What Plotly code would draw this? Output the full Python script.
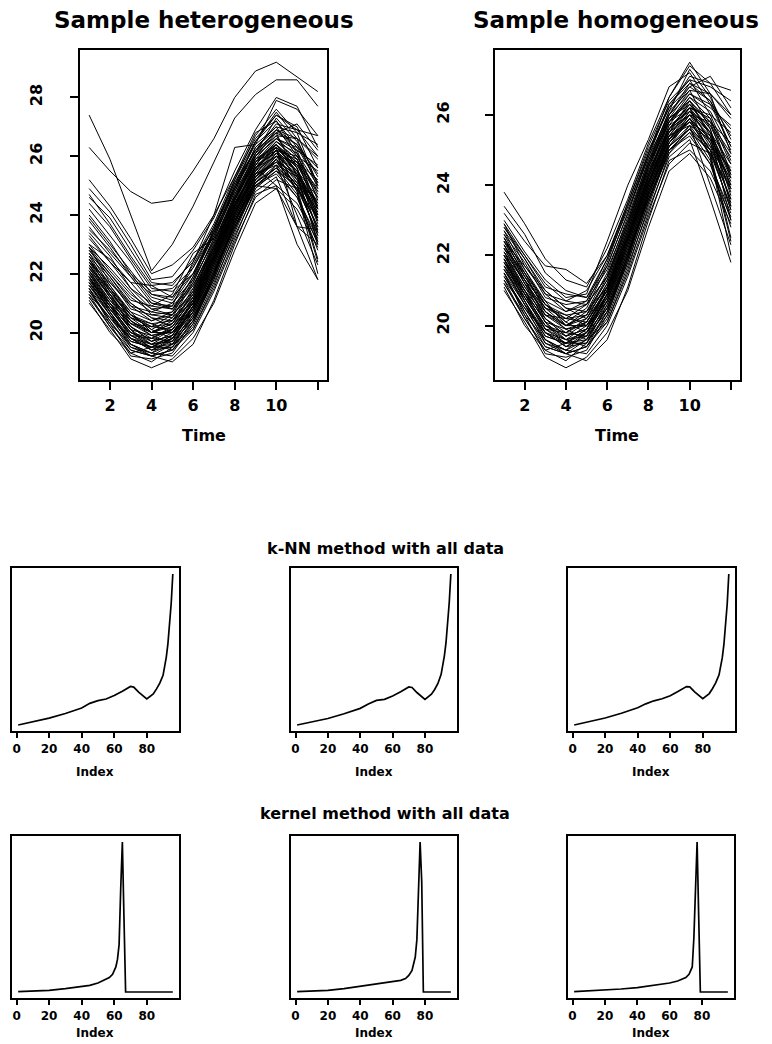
import plotly.graph_objects as go

W, H = 772, 1044          # browser window
OFF = 8                   # default page body margin
FW, FH = W - OFF, H - OFF # figure size
FONT = "DejaVu Sans"

# ---------------- data ----------------
TIME = list(range(1, 13))
TIME_TICKS = [2, 4, 6, 8, 10, 12]
TIME_TICKTEXT = ["2", "4", "6", "8", "10", ""]

BASE_CURVES = [
    [23.8, 22.9, 21.9, 21.3, 21.1, 22.2, 23.6, 25.2, 26.5, 27.5, 26.6, 24.9],
    [23.2, 22.4, 21.7, 21.6, 21.2, 22.0, 23.4, 24.9, 26.2, 27.1, 26.9, 26.7],
    [22.8, 22.0, 21.1, 20.9, 20.8, 21.9, 23.3, 24.8, 26.0, 26.8, 27.1, 26.2],
    [22.6, 21.8, 20.8, 20.6, 20.7, 21.6, 23.0, 24.6, 26.1, 27.3, 26.5, 25.3],
    [22.5, 21.4, 20.5, 20.3, 20.4, 21.5, 23.1, 24.7, 25.9, 26.4, 25.8, 24.2],
    [22.3, 21.2, 20.3, 20.2, 20.1, 21.0, 22.6, 24.3, 25.8, 26.6, 26.2, 25.7],
    [22.2, 21.5, 20.7, 20.0, 20.3, 21.3, 22.8, 24.4, 25.6, 26.0, 25.1, 23.6],
    [22.0, 20.9, 20.0, 19.8, 20.2, 21.2, 22.7, 24.5, 25.9, 26.3, 25.6, 23.9],
    [21.9, 21.0, 20.1, 19.9, 20.0, 20.9, 22.4, 24.1, 25.3, 25.9, 25.0, 23.3],
    [21.8, 20.7, 19.7, 19.5, 19.8, 20.7, 22.2, 23.9, 25.4, 26.2, 25.9, 24.6],
    [21.7, 20.8, 19.9, 19.6, 19.7, 20.6, 22.0, 23.6, 24.9, 25.5, 24.6, 22.8],
    [21.6, 20.6, 19.5, 19.3, 19.6, 20.5, 21.9, 23.8, 25.2, 25.8, 25.4, 24.0],
    [21.5, 20.4, 19.4, 19.2, 19.4, 20.2, 21.7, 23.3, 24.8, 25.3, 23.6, 21.8],
    [21.4, 20.5, 19.8, 19.4, 19.5, 20.4, 21.8, 23.5, 25.1, 25.9, 25.2, 23.5],
    [21.3, 20.2, 19.3, 19.5, 19.9, 20.8, 22.3, 24.0, 25.5, 26.4, 25.7, 24.4],
    [21.0, 20.1, 19.1, 18.8, 19.1, 19.8, 21.0, 22.8, 24.4, 24.9, 24.2, 22.9],
    [21.2, 20.3, 19.6, 19.2, 19.0, 19.6, 21.1, 23.0, 24.7, 25.0, 24.4, 23.1],
    [22.1, 21.1, 20.4, 19.9, 19.6, 20.1, 21.5, 23.2, 24.9, 25.7, 24.9, 22.5],
    [22.7, 21.6, 20.6, 20.1, 20.5, 21.7, 23.2, 24.8, 26.3, 27.0, 26.0, 24.7],
    [23.0, 22.1, 21.3, 20.8, 20.9, 22.4, 24.0, 25.3, 26.8, 27.2, 26.3, 25.6],
    [22.4, 21.3, 20.2, 19.7, 19.9, 21.1, 22.6, 24.2, 25.7, 26.1, 25.3, 23.8],
    [21.9, 20.9, 19.8, 19.6, 20.0, 21.0, 22.5, 24.1, 25.5, 26.0, 25.5, 24.3],
    [22.9, 21.7, 20.9, 20.4, 20.6, 21.4, 22.9, 24.6, 25.8, 26.2, 24.8, 22.0],
    [21.6, 20.8, 20.0, 19.6, 19.4, 20.1, 21.6, 23.4, 25.0, 25.6, 24.7, 23.0],
    [22.2, 21.2, 20.5, 20.2, 20.6, 21.8, 23.4, 24.9, 26.3, 26.9, 26.6, 25.9],
    [22.0, 21.0, 20.1, 19.4, 19.7, 20.9, 22.3, 23.9, 25.3, 26.1, 25.5, 23.7],
    [21.3, 20.5, 19.6, 19.3, 19.2, 20.0, 21.4, 23.1, 24.6, 25.2, 24.9, 23.9],
    [22.6, 21.5, 20.4, 20.0, 20.3, 21.4, 23.0, 24.7, 26.1, 26.7, 25.6, 23.4],
    [21.8, 21.0, 20.3, 20.0, 20.4, 21.3, 22.9, 24.5, 25.8, 26.5, 26.1, 25.0],
    [22.4, 21.7, 21.0, 20.5, 20.2, 21.0, 22.5, 24.0, 25.4, 25.7, 24.0, 22.3],
    [21.5, 20.3, 19.2, 19.1, 19.3, 20.3, 21.9, 23.7, 25.2, 25.9, 24.8, 22.4],
    [22.8, 21.9, 20.9, 20.7, 21.0, 22.0, 23.5, 25.1, 26.4, 27.0, 26.8, 26.4],
    [22.1, 21.0, 19.9, 19.8, 20.1, 21.1, 22.7, 24.3, 25.6, 26.3, 25.8, 24.9],
    [21.7, 20.6, 19.7, 19.5, 19.9, 20.8, 22.2, 23.8, 25.2, 26.0, 25.4, 24.1],
    [22.3, 21.4, 20.6, 20.3, 20.0, 20.7, 22.1, 23.6, 25.0, 25.4, 24.6, 23.2],
    [21.1, 20.0, 19.3, 19.0, 19.5, 20.6, 22.1, 23.9, 25.3, 26.0, 25.8, 25.2],
    [23.4, 22.6, 21.5, 21.0, 20.8, 21.7, 23.2, 24.9, 26.5, 27.4, 26.9, 26.0],
    [22.5, 21.6, 20.7, 20.4, 20.7, 21.9, 23.5, 25.0, 26.2, 26.8, 26.4, 25.4],
    [21.9, 20.7, 19.6, 19.3, 19.8, 20.8, 22.4, 24.1, 25.4, 25.8, 25.0, 23.6],
    [22.0, 21.3, 20.6, 20.1, 19.8, 20.5, 22.0, 23.7, 25.1, 25.6, 25.1, 24.5],
    [22.1, 21.3, 20.4, 20.0, 20.2, 21.2, 22.8, 24.6, 26.0, 26.6, 26.3, 25.1],
    [21.8, 20.9, 20.2, 19.8, 19.7, 20.4, 21.9, 23.6, 25.1, 25.7, 25.3, 24.4],
    [22.4, 21.5, 20.6, 20.2, 20.3, 21.1, 22.7, 24.4, 25.9, 26.7, 26.6, 26.0],
    [21.4, 20.4, 19.5, 19.2, 19.6, 20.7, 22.3, 24.0, 25.6, 26.3, 25.5, 24.2],
    [22.7, 21.9, 21.0, 20.5, 20.4, 21.1, 22.5, 24.1, 25.6, 26.2, 25.2, 23.9],
    [21.9, 20.8, 19.9, 19.5, 19.5, 20.3, 21.8, 23.5, 25.0, 25.5, 25.0, 24.2],
    [22.3, 21.3, 20.3, 19.9, 20.1, 21.0, 22.5, 24.2, 25.7, 26.5, 25.9, 24.3],
    [21.2, 20.2, 19.4, 19.2, 19.4, 20.4, 22.0, 23.8, 25.1, 25.6, 24.9, 23.4],
    [22.9, 22.0, 21.2, 20.7, 20.6, 21.4, 22.9, 24.5, 26.0, 26.9, 26.4, 25.1],
    [22.0, 21.1, 20.2, 19.7, 19.9, 20.9, 22.4, 24.0, 25.4, 26.1, 25.7, 24.8],
    [21.6, 20.7, 19.8, 19.5, 19.6, 20.5, 22.0, 23.8, 25.3, 25.8, 25.0, 23.3],
    [22.5, 21.4, 20.5, 20.0, 20.0, 20.9, 22.5, 24.3, 25.8, 26.4, 25.4, 23.0],
    [21.5, 20.6, 19.8, 19.4, 19.8, 20.9, 22.5, 24.2, 25.5, 26.2, 26.0, 25.5],
    [22.2, 21.2, 20.1, 19.6, 19.8, 20.7, 22.1, 23.7, 25.2, 25.9, 25.3, 24.0],
    [21.7, 20.9, 20.0, 19.7, 20.1, 21.0, 22.6, 24.3, 25.6, 26.2, 25.5, 24.6],
]

HETERO_EXTRA = [
    [27.4, 25.9, 24.0, 22.1, 23.0, 24.3, 25.8, 27.3, 28.1, 28.6, 28.6, 27.7],
    [26.3, 25.5, 24.8, 24.4, 24.5, 25.5, 26.6, 28.0, 28.9, 29.2, 28.7, 28.2],
    [25.2, 24.3, 23.2, 22.0, 22.3, 22.9, 24.0, 26.3, 26.4, 27.9, 27.6, 26.7],
    [24.9, 24.1, 23.0, 21.8, 21.9, 22.8, 23.9, 25.5, 26.9, 28.0, 27.7, 26.3],
    [24.6, 23.9, 22.8, 21.7, 21.6, 22.5, 23.5, 25.2, 26.7, 27.6, 26.8, 25.0],
    [24.4, 23.6, 22.5, 21.5, 21.4, 22.0, 23.3, 25.0, 26.5, 27.2, 26.1, 24.2],
    [24.2, 23.3, 22.4, 21.3, 21.2, 22.3, 23.6, 25.1, 26.2, 26.8, 25.3, 23.1],
    [23.9, 23.0, 22.1, 21.2, 21.0, 21.8, 23.1, 24.6, 25.8, 26.3, 23.6, 23.0],
    [23.6, 22.7, 21.9, 21.0, 20.9, 21.6, 22.9, 24.4, 25.6, 25.0, 23.0, 21.8],
    [23.0, 22.5, 21.7, 20.9, 21.3, 22.7, 23.2, 24.2, 25.0, 24.9, 23.6, 23.5],
    [24.0, 23.1, 22.0, 21.1, 20.8, 21.5, 22.8, 24.5, 26.0, 26.6, 26.0, 24.8],
    [22.9, 22.2, 21.4, 20.6, 20.5, 21.2, 22.6, 24.3, 25.7, 26.5, 25.9, 24.0],
    [24.7, 23.7, 22.6, 21.6, 21.7, 22.4, 23.7, 25.3, 26.6, 27.4, 27.0, 25.6],
    [23.5, 22.8, 22.0, 21.4, 21.5, 22.2, 23.4, 24.9, 26.1, 26.9, 26.2, 24.5],
    [23.3, 22.4, 21.5, 20.8, 20.6, 21.3, 22.7, 24.3, 25.6, 26.4, 25.6, 23.8],
]

INDEX_TICKS = [0, 20, 40, 60, 80]

KNN_X = [1, 10, 20, 30, 40, 45, 50, 55, 60, 65, 70, 72, 75, 80, 84, 86, 88, 90, 91, 92, 93, 94, 95, 96]
KNN_A = [0, 2.0, 4.5, 7.6, 11.2, 14.3, 16.1, 17.2, 19.5, 22.4, 25.5, 25.1, 21.7, 17.2,
         20.6, 23.9, 27.7, 32.9, 38.3, 45.0, 53.9, 65.1, 80.5, 100]
KNN_B = [0, 1.9, 4.3, 7.4, 11.0, 13.9, 16.3, 17.0, 19.2, 22.0, 25.2, 24.8, 21.5, 16.9,
         20.4, 23.5, 27.5, 33.5, 38.8, 45.8, 54.5, 66.0, 81.0, 100]
KNN_C = [0, 2.1, 4.6, 7.8, 11.4, 14.0, 16.0, 17.4, 19.4, 22.3, 25.4, 25.2, 21.9, 17.4,
         20.8, 24.2, 28.0, 33.2, 38.0, 44.6, 53.5, 64.8, 80.0, 100]

KERN_A_X = [1, 10, 20, 30, 40, 45, 50, 55, 57, 59, 60, 61, 62, 63, 64, 65, 66, 67, 96]
KERN_A = [0.3, 0.5, 1.1, 2.2, 3.6, 4.4, 6.0, 8.2, 9.6, 11.8, 13.8, 16.7, 21.7, 31.6,
          69.1, 100, 49.3, 0, 0]
KERN_B_X = [1, 10, 20, 30, 40, 50, 60, 65, 68, 70, 72, 73, 74, 75, 76, 77, 78, 79, 96]
KERN_B = [0.3, 0.7, 1.1, 2.2, 3.8, 5.3, 6.7, 7.8, 9.0, 11.1, 14.4, 18.9, 23.3, 34.9,
          73.5, 100, 73.5, 0, 0]
KERN_C_X = [1, 10, 20, 30, 40, 50, 60, 65, 70, 72, 74, 75, 76, 77, 78, 79, 96]
KERN_C = [0.3, 0.8, 1.1, 2.0, 2.9, 4.4, 6.0, 7.3, 9.6, 11.8, 16.7, 36.2, 71.3, 100,
          49.3, 0, 0]


def pad_range(values, frac=0.04):
    lo, hi = min(values), max(values)
    d = (hi - lo) * frac
    return [lo - d, hi + d]


def dx(l, r):
    return [(l - OFF) / FW, (r - OFF) / FW]


def dy(t, b):
    return [1 - (b - OFF) / FH, 1 - (t - OFF) / FH]


fig = go.Figure()

BOLD = dict(family=FONT, color="black", weight="bold")


def add_axes(n, xdom, ydom, xr, yr, xticks, xtext, yticks, ticklen, tickfs, ylabels, ystand, xstand):
    key = "" if n == 1 else str(n)
    xa = dict(domain=xdom, range=xr, showgrid=False, zeroline=False, showline=True,
              linecolor="black", linewidth=1.5, mirror=True, ticks="outside",
              ticklen=ticklen, tickwidth=1.5, tickcolor="black",
              tickvals=xticks, ticktext=xtext,
              tickfont=dict(size=tickfs, **BOLD), ticklabelstandoff=xstand,
              anchor="y" + key, fixedrange=True)
    ya = dict(domain=ydom, range=yr, showgrid=False, zeroline=False, showline=True,
              linecolor="black", linewidth=1.5, mirror=True,
              anchor="x" + key, fixedrange=True)
    if ylabels:
        ya.update(ticks="outside", ticklen=ticklen, tickwidth=1.5, tickcolor="black",
                  tickvals=yticks, tickangle=-90,
                  tickfont=dict(size=tickfs, **BOLD), ticklabelstandoff=ystand)
    else:
        ya.update(showticklabels=False, ticks="")
    fig.update_layout(**{"xaxis" + key: xa, "yaxis" + key: ya})


def add_line(n, x, y, width):
    key = "" if n == 1 else str(n)
    fig.add_trace(go.Scatter(x=x, y=y, mode="lines", line=dict(color="black", width=width),
                             xaxis="x" + key, yaxis="y" + key, showlegend=False,
                             hoverinfo="skip"))


time_range = pad_range(TIME)

# Top-left: heterogeneous sample
hetero = BASE_CURVES + HETERO_EXTRA
for c in hetero:
    add_line(1, TIME, c, 1)
add_axes(1, dx(80, 327), dy(50, 380), time_range,
         pad_range([v for c in hetero for v in c]),
         TIME_TICKS, TIME_TICKTEXT, [20, 22, 24, 26, 28], 8, 16, True, 22, 2)

# Top-right: homogeneous sample
for c in BASE_CURVES:
    add_line(2, TIME, c, 1)
add_axes(2, dx(495, 740), dy(50, 380), time_range,
         pad_range([v for c in BASE_CURVES for v in c]),
         TIME_TICKS, TIME_TICKTEXT, [20, 22, 24, 26], 8, 16, True, 30, 2)

idx_range = pad_range([1, 96])

bottom = [
    (3, KNN_X, KNN_A, dx(12, 179), dy(568, 731)),
    (4, KNN_X, KNN_B, dx(291, 457), dy(568, 731)),
    (5, KNN_X, KNN_C, dx(568, 735), dy(568, 731)),
    (6, KERN_A_X, KERN_A, dx(12, 179), dy(836, 998)),
    (7, KERN_B_X, KERN_B, dx(291, 457), dy(836, 998)),
    (8, KERN_C_X, KERN_C, dx(568, 734), dy(836, 998)),
]
for n, xs, ys, xd, yd in bottom:
    add_line(n, xs, ys, 1.7)
    add_axes(n, xd, yd, idx_range, pad_range(ys), INDEX_TICKS,
             [str(v) for v in INDEX_TICKS], None, 5, 12, False, 0, 1)

ann = []


def text(x, y, s, size):
    ann.append(dict(x=(x - OFF) / FW, y=1 - (y - OFF) / FH, xref="paper", yref="paper", text=s,
                    showarrow=False, xanchor="center", yanchor="middle",
                    font=dict(size=size, **BOLD)))


text(204, 20, "Sample heterogeneous", 23)
text(616, 20, "Sample homogeneous", 23)
text(204, 435, "Time", 16)
text(617, 435, "Time", 16)
text(385, 548, "k-NN method with all data", 16)
text(385, 813, "kernel method with all data", 16)
for cx in (95, 374, 651):
    text(cx, 772, "Index", 12)
    text(cx, 1033, "Index", 12)

fig.update_layout(width=FW, height=FH, margin=dict(l=0, r=0, t=0, b=0),
                  paper_bgcolor="white", plot_bgcolor="white", annotations=ann)

fig.write_html("out.html")
